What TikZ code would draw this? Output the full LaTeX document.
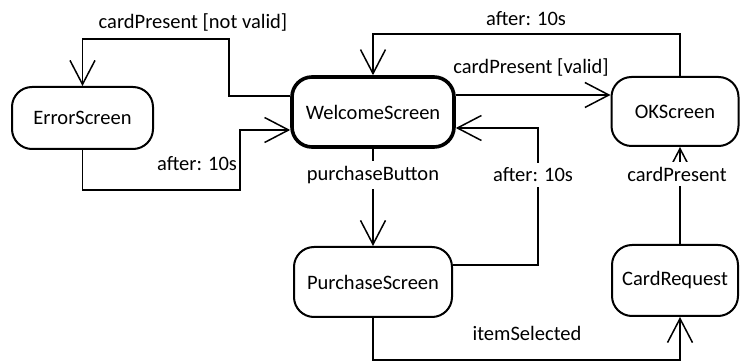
\documentclass[tikz,border=0pt]{standalone}
\usepackage{fontspec}
\setmainfont{Carlito}
\usetikzlibrary{arrows.meta}
\begin{document}
\begin{tikzpicture}[x=1pt,y=-1pt,
  txt/.style={font=\fontsize{20.5}{24}\selectfont, text=black},
  state/.style={txt, draw=black, line width=2pt, rounded corners=20pt, inner sep=0pt},
  initial/.style={state, line width=3.6pt},
  arr/.style={draw=black, line width=1.5pt, -{Straight Barb[length=24pt,width=25pt,line width=1.5pt]}},
  lbl/.style={txt, inner sep=0pt},
  onl/.style={txt, fill=white, inner sep=5pt}]
\useasboundingbox (0,0) rectangle (740,363);
\fill[white] (0,0) rectangle (740,363);

\node[state, minimum width=141pt, minimum height=62pt] (error) at (82.5,118) {ErrorScreen};
\node[initial, minimum width=162pt, minimum height=70pt] (welcome) at (373,112) {WelcomeScreen};
\node[state, minimum width=127pt, minimum height=69pt] (ok) at (675,111.5) {OKScreen};
\node[state, minimum width=158pt, minimum height=70pt] (purchase) at (373,282) {PurchaseScreen};
\node[state, minimum width=126pt, minimum height=71pt] (card) at (675,280.5) {CardRequest};

% Welcome -> Error
\draw[arr] (welcome.west |- 0,96) -| (229,39) -| (error.north);
% Error -> Welcome
\draw[arr] (error.south) |- (240,190) |- (welcome.west |- 0,130);
% OK -> Welcome
\draw[arr] (ok.north -| 680,0) |- (373,34) -| (welcome.north);
% Welcome -> OK
\draw[arr] (welcome.east |- 0,95) -- (ok.west |- 0,95);
% Purchase -> Welcome
\draw[arr] (purchase.east |- 0,265) -| (538,128) -- (welcome.east |- 0,128);
% Welcome -> Purchase
\draw[arr] (welcome.south) -- (purchase.north);
% Purchase -> CardRequest
\draw[arr] (purchase.south) |- (680,360) -- (card.south -| 680,0);
% CardRequest -> OK
\draw[arr] (card.north -| 680,0) -- (ok.south -| 680,0);

\node[lbl] (l1) at (193,22) {cardPresent [not valid]};
\node[lbl] (l2) at (197,164) {after: 10s};
\node[lbl] (l3) at (526,19) {after: 10s};
\node[lbl] (l4) at (531,67) {cardPresent [valid]};
\node[onl] (l5) at (533,175) {after: 10s};
\node[onl] (l6) at (373,175) {purchaseButton};
\node[onl] (l7) at (677,174) {cardPresent};
\node[lbl] (l8) at (527,333) {itemSelected};
\end{tikzpicture}
\end{document}
